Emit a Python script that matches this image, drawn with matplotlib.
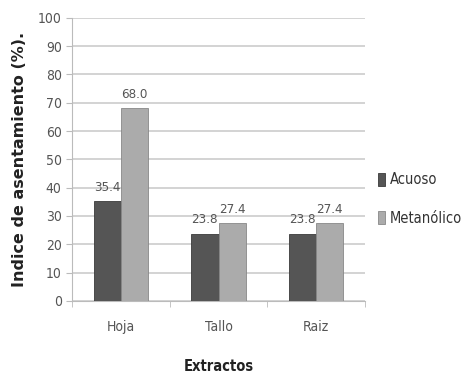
import numpy as np
import matplotlib
matplotlib.use('Agg')
import matplotlib.pyplot as plt

#data
categories = ['Hoja', 'Tallo', 'Raiz']
acuoso = [35.4, 23.8, 23.8]
metanolico = [68.0, 27.4, 27.4]
series_names = ['Acuoso', 'Metanólico']

plt.rcParams['font.family'] = ['DejaVu Sans']
plt.rcParams['font.stretch'] = 'condensed'

fig = plt.figure(figsize=(4.74, 3.79), dpi=100)
ax = fig.add_axes([0.152, 0.206, 0.618, 0.747])

x = np.arange(len(categories))
w = 0.28
b1 = ax.bar(x - w/2, acuoso, w, color='#555555', edgecolor='#3a3a3a', linewidth=0.6, label=series_names[0], zorder=3)
b2 = ax.bar(x + w/2, metanolico, w, color='#ababab', edgecolor='#888888', linewidth=0.6, label=series_names[1], zorder=3)

#value labels above bars
for bars, vals in [(b1, acuoso), (b2, metanolico)]:
    for r, v in zip(bars, vals):
        ax.text(r.get_x() + r.get_width()/2, v + 2.5, '%.1f' % v, ha='center', va='bottom',
                fontsize=9.5, color='#555555')

ax.set_xlim(-0.5, len(categories) - 0.5)
ax.set_ylim(0, 100)
ax.set_yticks(np.arange(0, 101, 10))
ax.set_xticks(x)
ax.set_xticklabels(categories)
ax.set_xticks(np.arange(-0.5, len(categories), 1), minor=True)
ax.tick_params(axis='x', which='major', length=0, pad=14, labelsize=10, labelcolor='#555555')
ax.tick_params(axis='x', which='minor', length=4, color='#bbbbbb')
ax.tick_params(axis='y', length=4, color='#bbbbbb', labelsize=10, labelcolor='#555555')

ax.yaxis.grid(True, color='#cccccc', linewidth=1.2, zorder=0)
ax.set_axisbelow(True)
for s in ['top', 'right']:
    ax.spines[s].set_visible(False)
ax.spines['left'].set_color('#bbbbbb')
ax.spines['bottom'].set_color('#bbbbbb')

ax.set_xlabel('Extractos', fontweight='bold', fontsize=10.5, labelpad=18, color='#222222')
ax.set_ylabel('Indice de asentamiento (%).', fontweight='bold', fontsize=11.5,
              fontstretch='normal', labelpad=8, color='#222222')

ax.legend(loc='center left', bbox_to_anchor=(1.0, 0.36), frameon=False, fontsize=10.5,
          handlelength=0.45, handleheight=1.0, handletextpad=0.35, labelspacing=1.6,
          labelcolor='#333333')

plt.savefig('out.png', dpi=100)
